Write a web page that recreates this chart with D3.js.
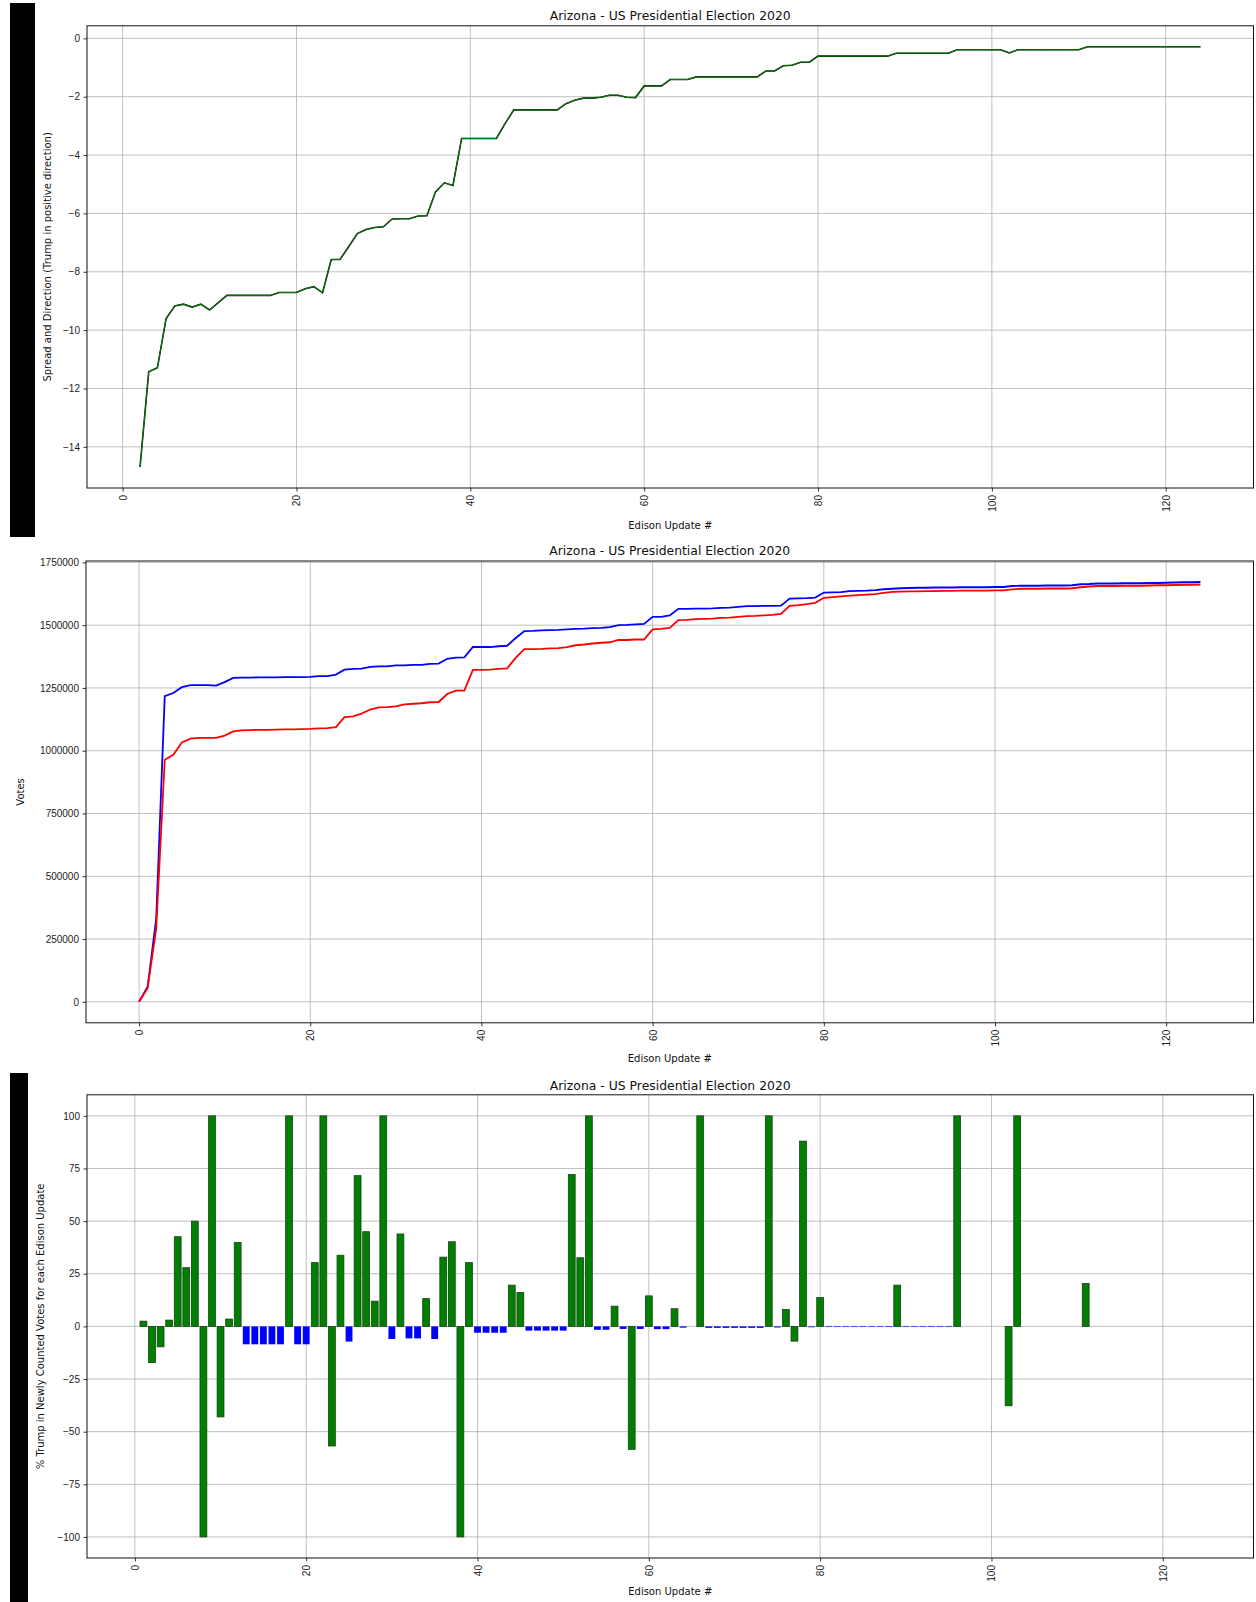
<!DOCTYPE html>
<html>
<head>
<meta charset="utf-8">
<script src="https://cdn.jsdelivr.net/npm/d3@7"></script>
<style>
  body { margin: 0; background: #fff; }
  svg { display: block; font-family: "DejaVu Sans", sans-serif; }
  .tick text { font-size: 10px; fill: #222; }
</style>
</head>
<body>
<svg id="chart" width="1256" height="1602"></svg>
<script>
const chartTitle = "Arizona - US Presidential Election 2020";
const xLabel = "Edison Update #";
const xTicks = [0, 20, 40, 60, 80, 100, 120];
const spreadTicks = [-14, -12, -10, -8, -6, -4, -2, 0];
const voteTicks = [0, 250000, 500000, 750000, 1000000, 1250000, 1500000, 1750000];
const pctTicks = [-100, -75, -50, -25, 0, 25, 50, 75, 100];

// spread in % (Trump positive), updates 2..124
const spreadStart = 2;
const spread = [
  -14.69, -11.43, -11.29, -9.6, -9.17, -9.11, -9.21, -9.11, -9.31, -9.06,
  -8.81, -8.81, -8.81, -8.81, -8.81, -8.81, -8.71, -8.71, -8.71, -8.58,
  -8.51, -8.72, -7.58, -7.58, -7.14, -6.69, -6.55, -6.48, -6.46, -6.19,
  -6.18, -6.18, -6.09, -6.08, -5.26, -4.95, -5.04, -3.43, -3.43, -3.43,
  -3.43, -3.43, -2.92, -2.45, -2.45, -2.45, -2.45, -2.45, -2.45, -2.24,
  -2.12, -2.05, -2.05, -2.02, -1.95, -1.95, -2.02, -2.03, -1.63, -1.63,
  -1.63, -1.41, -1.41, -1.41, -1.32, -1.32, -1.32, -1.32, -1.32, -1.32,
  -1.32, -1.32, -1.12, -1.12, -0.94, -0.92, -0.82, -0.82, -0.61, -0.61,
  -0.61, -0.61, -0.61, -0.61, -0.61, -0.61, -0.61, -0.51, -0.51, -0.51,
  -0.51, -0.51, -0.51, -0.51, -0.39, -0.39, -0.39, -0.39, -0.39, -0.39,
  -0.5, -0.39, -0.39, -0.39, -0.39, -0.39, -0.39, -0.39, -0.39, -0.29,
  -0.29, -0.29, -0.29, -0.29, -0.29, -0.29, -0.29, -0.29, -0.29, -0.29,
  -0.29, -0.29, -0.29
];

// cumulative votes in thousands, updates 0..124
const bidenK = [
  0, 60, 330, 1217, 1230, 1253, 1261, 1261, 1261, 1259,
  1273, 1290, 1291, 1291.5, 1292, 1292, 1292.5, 1293, 1293, 1293,
  1294, 1297, 1297, 1303, 1323, 1326, 1327, 1334, 1336, 1336,
  1340, 1340, 1342, 1342, 1346, 1347, 1366, 1371, 1372, 1413,
  1413, 1413, 1416, 1418, 1449, 1476, 1477, 1479, 1480, 1481,
  1483, 1485, 1486, 1488, 1489, 1492, 1500, 1501, 1503, 1505,
  1533, 1533, 1539, 1565, 1565, 1566, 1566, 1567, 1569, 1570,
  1573, 1576, 1576, 1577, 1577, 1578, 1606, 1607, 1608, 1610,
  1630, 1631, 1632, 1636, 1637, 1638, 1640, 1643, 1645, 1647,
  1648, 1649, 1649, 1650, 1650, 1650, 1651, 1651, 1651, 1651,
  1652, 1652, 1656, 1657, 1657, 1657, 1658, 1658, 1658, 1659,
  1663, 1664, 1666, 1666, 1666, 1667, 1667, 1667, 1668, 1668,
  1669, 1670, 1671, 1671, 1672
];
const trumpK = [
  0, 55, 290, 964, 984, 1033, 1048, 1051, 1051, 1051,
  1060, 1077, 1081, 1082, 1083, 1083, 1084, 1085, 1085, 1086,
  1087, 1089, 1090, 1094, 1134, 1137, 1148, 1164, 1173, 1174,
  1177, 1185, 1187, 1189, 1193, 1194, 1226, 1239, 1239, 1322,
  1322, 1323, 1326, 1328, 1370, 1405, 1405, 1406, 1408, 1409,
  1413, 1420, 1423, 1427, 1430, 1432, 1441, 1441, 1443, 1443,
  1483, 1485, 1489, 1520, 1521, 1524, 1525, 1526, 1529, 1530,
  1533, 1536, 1537, 1539, 1541, 1545, 1577, 1580, 1584, 1589,
  1609, 1612, 1615, 1618, 1620, 1622, 1624, 1629, 1633, 1634,
  1635, 1635, 1636, 1636, 1637, 1637, 1638, 1638, 1638, 1638,
  1639, 1639, 1643, 1645, 1645, 1645, 1646, 1646, 1646, 1647,
  1651, 1654, 1656, 1656, 1656, 1657, 1657, 1657, 1658, 1659,
  1659, 1660, 1661, 1661, 1662
];

// % Trump in newly counted votes, updates 1..124
const pctStart = 1;
const pctTrump = [
  2.5, -17.2, -9.7, 3, 42.6, 27.9, 50, -100, 100, -43,
  3.5, 39.9, -8.5, -8.5, -8.5, -8.5, -8.5, 100, -8.5, -8.5,
  30.3, 100, -56.8, 33.8, -7.2, 71.6, 45, 12, 100, -6,
  43.9, -5.7, -5.7, 13.2, -6, 32.9, 40.2, -100, 30.3, -3,
  -3, -3, -3, 19.6, 16.1, -2, -2, -2, -2, -2,
  72.1, 32.6, 100, -1.6, -1.6, 9.6, -1.2, -58.4, -1.2, 14.5,
  -1.3, -1.3, 8.4, -0.6, 0, 100, -0.7, -0.7, -0.7, -0.7,
  -0.7, -0.7, -0.7, 100, -0.5, 8, -7, 88, -0.4, 13.7,
  -0.3, -0.3, -0.3, -0.3, -0.3, -0.3, -0.3, -0.3, 19.6, -0.3,
  -0.3, -0.3, -0.3, -0.3, -0.3, 100, 0, 0, 0, 0,
  0, -37.7, 100, 0, 0, 0, 0, 0, 0, 0,
  20.4, 0, 0, 0, 0, 0, 0, 0, 0, 0,
  0, 0, 0, 0
];
// bar colour per update, same rows as pctTrump (g = green, b = blue)
const barParty = [
  "gggggggggg",
  "ggbbbbbgbb",
  "ggggbggggb",
  "gbbgbggggb",
  "bbbggbbbbb",
  "gggbbgbgbg",
  "bbgbggbbbb",
  "bbbgbgggbg",
  "bbbbbbbbgb",
  "bbbbbggggg",
  "gggggggggg",
  "gggggggggg",
  "gggg"
].join("").split("");

const partyColor = { g: "green", b: "blue" };
const partyEdge = { g: "#1c3f1c", b: "none" };

const svg = d3.select("#chart");

function padded(lo, hi) {
  let r = hi - lo;
  return [lo - 0.05 * r, hi + 0.05 * r];
}

function drawFrame(p, x, y, yTickVals, yLabel) {
  let g = svg.append("g");

  g.selectAll(".vgrid")
    .data(xTicks)
    .enter()
    .append("line")
    .attr("x1", (d) => x(d))
    .attr("x2", (d) => x(d))
    .attr("y1", p.top)
    .attr("y2", p.bottom)
    .attr("stroke", "#b0b0b0")
    .attr("stroke-width", 0.8);

  g.selectAll(".hgrid")
    .data(yTickVals)
    .enter()
    .append("line")
    .attr("x1", p.left)
    .attr("x2", p.right)
    .attr("y1", (d) => y(d))
    .attr("y2", (d) => y(d))
    .attr("stroke", "#b0b0b0")
    .attr("stroke-width", 0.8);

  svg
    .append("text")
    .attr("x", (p.left + p.right) / 2)
    .attr("y", p.titleY)
    .attr("text-anchor", "middle")
    .attr("dominant-baseline", "central")
    .style("font-size", "12.4px")
    .style("fill", "#111")
    .text(chartTitle);

  svg
    .append("text")
    .attr("x", (p.left + p.right) / 2)
    .attr("y", p.xLabelY)
    .attr("text-anchor", "middle")
    .attr("dominant-baseline", "central")
    .style("font-size", "10px")
    .style("fill", "#111")
    .text(xLabel);

  svg
    .append("text")
    .attr("transform", `translate(${p.yLabelX},${(p.top + p.bottom) / 2}) rotate(-90)`)
    .attr("text-anchor", "middle")
    .attr("dominant-baseline", "central")
    .style("font-size", "10px")
    .style("fill", "#111")
    .text(yLabel);
}

function drawAxes(p, x, y, yTickVals) {
  let xAxis = d3.axisBottom(x).tickValues(xTicks).tickSize(3.5).tickPadding(3.5).tickFormat(d3.format("d"));
  let gx = svg
    .append("g")
    .attr("transform", `translate(0,${p.bottom})`)
    .call(xAxis);
  gx.select(".domain").remove();
  gx.selectAll("line").attr("stroke", "#000").attr("stroke-width", 0.8);
  gx.selectAll("text")
    .attr("transform", "rotate(-90)")
    .attr("x", -7)
    .attr("y", 0)
    .attr("dy", "0.35em")
    .style("text-anchor", "end");

  let yAxis = d3.axisLeft(y).tickValues(yTickVals).tickSize(3.5).tickPadding(3.5).tickFormat(d3.format("d"));
  let gy = svg
    .append("g")
    .attr("transform", `translate(${p.left},0)`)
    .call(yAxis);
  gy.select(".domain").remove();
  gy.selectAll("line").attr("stroke", "#000").attr("stroke-width", 0.8);

  svg
    .append("rect")
    .attr("x", p.left)
    .attr("y", p.top)
    .attr("width", p.right - p.left)
    .attr("height", p.bottom - p.top)
    .attr("fill", "none")
    .attr("stroke", "#111")
    .attr("stroke-width", 1);
}

function showSpread() {
  let p = { left: 87, right: 1253.5, top: 25.8, bottom: 488, titleY: 15.5, xLabelY: 525, yLabelX: 47.8 };
  let pts = spread.map((v, i) => ({ u: i + spreadStart, v }));
  let x = d3.scaleLinear()
    .domain(padded(d3.min(pts, (d) => d.u), d3.max(pts, (d) => d.u)))
    .range([p.left, p.right]);
  let y = d3.scaleLinear()
    .domain(padded(d3.min(spread), d3.max(spread)))
    .range([p.bottom, p.top]);

  drawFrame(p, x, y, spreadTicks, "Spread and Direction (Trump in positive direction)");

  let line = d3.line().x((d) => x(d.u)).y((d) => y(d.v));
  svg.append("path").datum(pts).attr("d", line)
    .attr("fill", "none").attr("stroke", "#111").attr("stroke-width", 1.6);
  svg.append("path").datum(pts).attr("d", line)
    .attr("fill", "none").attr("stroke", "green").attr("stroke-width", 1);

  drawAxes(p, x, y, spreadTicks);
}

function showVotes() {
  let p = { left: 86, right: 1253.5, top: 561, bottom: 1022.8, titleY: 550, xLabelY: 1058, yLabelX: 20.4 };
  let biden = bidenK.map((v, i) => ({ u: i, v: v * 1000 }));
  let trump = trumpK.map((v, i) => ({ u: i, v: v * 1000 }));
  let all = biden.concat(trump);
  let x = d3.scaleLinear()
    .domain(padded(0, bidenK.length - 1))
    .range([p.left, p.right]);
  let y = d3.scaleLinear()
    .domain(padded(d3.min(all, (d) => d.v), d3.max(all, (d) => d.v)))
    .range([p.bottom, p.top]);

  drawFrame(p, x, y, voteTicks, "Votes");

  let line = d3.line().x((d) => x(d.u)).y((d) => y(d.v));
  svg.append("path").datum(biden).attr("d", line)
    .attr("fill", "none").attr("stroke", "blue").attr("stroke-width", 1.8);
  svg.append("path").datum(trump).attr("d", line)
    .attr("fill", "none").attr("stroke", "red").attr("stroke-width", 1.8);

  drawAxes(p, x, y, voteTicks);
}

function showPct() {
  let p = { left: 87, right: 1253.5, top: 1094.8, bottom: 1558, titleY: 1085, xLabelY: 1591, yLabelX: 40.8 };
  let bars = pctTrump.map((v, i) => ({ u: i + pctStart, v, party: barParty[i] || "g" }));
  let x = d3.scaleLinear()
    .domain(padded(pctStart - 0.4, pctStart + pctTrump.length - 1 + 0.4))
    .range([p.left, p.right]);
  let y = d3.scaleLinear()
    .domain(padded(d3.min(pctTrump), d3.max(pctTrump)))
    .range([p.bottom, p.top]);

  drawFrame(p, x, y, pctTicks, "% Trump in Newly Counted Votes for each Edison Update");

  svg.append("g")
    .selectAll("rect")
    .data(bars.filter((d) => d.v !== 0))
    .enter()
    .append("rect")
    .attr("x", (d) => x(d.u - 0.4))
    .attr("width", (d) => x(d.u + 0.4) - x(d.u - 0.4))
    .attr("y", (d) => y(Math.max(0, d.v)))
    .attr("height", (d) => Math.max(0.6, Math.abs(y(d.v) - y(0))))
    .attr("fill", (d) => partyColor[d.party])
    .attr("stroke", (d) => partyEdge[d.party])
    .attr("stroke-width", 0.8);

  drawAxes(p, x, y, pctTicks);
}

// black strips along the left edge of the first and last plots
svg.append("rect").attr("x", 10).attr("y", 3).attr("width", 25).attr("height", 534).attr("fill", "#000");
svg.append("rect").attr("x", 10).attr("y", 1073).attr("width", 18).attr("height", 529).attr("fill", "#000");

showSpread();
showVotes();
showPct();
</script>
</body>
</html>
